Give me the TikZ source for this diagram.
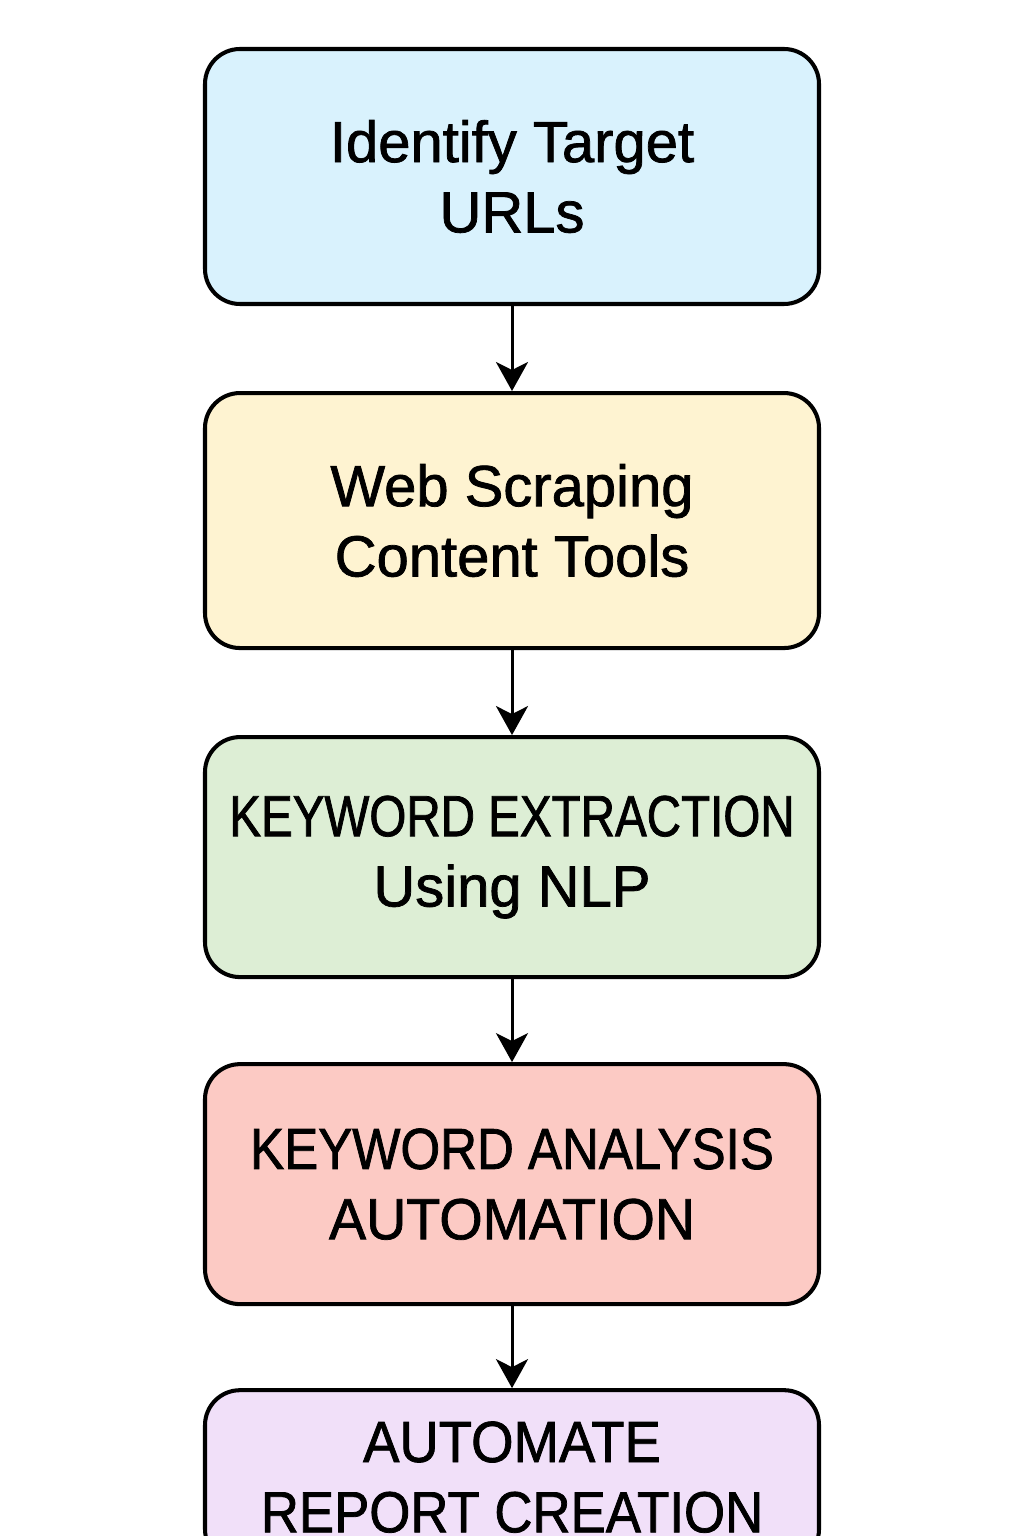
\documentclass[tikz,border=0pt]{standalone}
\usepackage{fontspec}
\setmainfont[FakeBold=1.3]{Liberation Sans}
\newfontfamily\condfont[FakeBold=1.3]{Liberation Sans}
\newcommand{\squeezed}[2]{{\condfont\addfontfeature{FakeStretch=#1}#2}}
\usetikzlibrary{positioning,arrows.meta}

\definecolor{boxblue}{HTML}{D9F2FD}
\definecolor{boxyellow}{HTML}{FEF3D1}
\definecolor{boxgreen}{HTML}{DDEED5}
\definecolor{boxpink}{HTML}{FCCAC4}
\definecolor{boxpurple}{HTML}{F1E0F9}

\tikzset{
  stepbox/.style={draw, line width=2.3pt, rounded corners=0.7cm,
    minimum width=12.28cm, minimum height=5.1cm, align=center,
    font=\fontsize{33}{40}\selectfont},
  flow/.style={-{Stealth[length=0.58cm,width=0.64cm,inset=0.16cm]}, line width=1.7pt}
}

\begin{document}
\begin{tikzpicture}[node distance=1.7cm]
  % Page frame
  \useasboundingbox (0,0) rectangle (20.48,-30.72);

  % Flow boxes
  \node[stepbox, fill=boxblue] (urls) at (10.24,-3.53) {Identify Target\\URLs};
  \node[stepbox, fill=boxyellow, below=of urls] (scrape) {Web Scraping\\Content Tools};
  \node[stepbox, fill=boxgreen, minimum height=4.8cm, below=of scrape] (extract)
    {\squeezed{0.82}{KEYWORD EXTRACTION}\\Using NLP};
  \node[stepbox, fill=boxpink, minimum height=4.8cm, below=1.66cm of extract] (analysis)
    {\squeezed{0.88}{KEYWORD ANALYSIS}\\\squeezed{0.96}{AUTOMATION}};
  \node[stepbox, fill=boxpurple, minimum height=3.48cm, below=1.64cm of analysis] (report)
    {\squeezed{0.94}{AUTOMATE}\\\squeezed{0.91}{REPORT CREATION}};

  % Arrows
  \draw[flow] (urls) -- (scrape);
  \draw[flow] (scrape) -- (extract);
  \draw[flow] (extract) -- (analysis);
  \draw[flow] (analysis) -- (report);
\end{tikzpicture}
\end{document}
